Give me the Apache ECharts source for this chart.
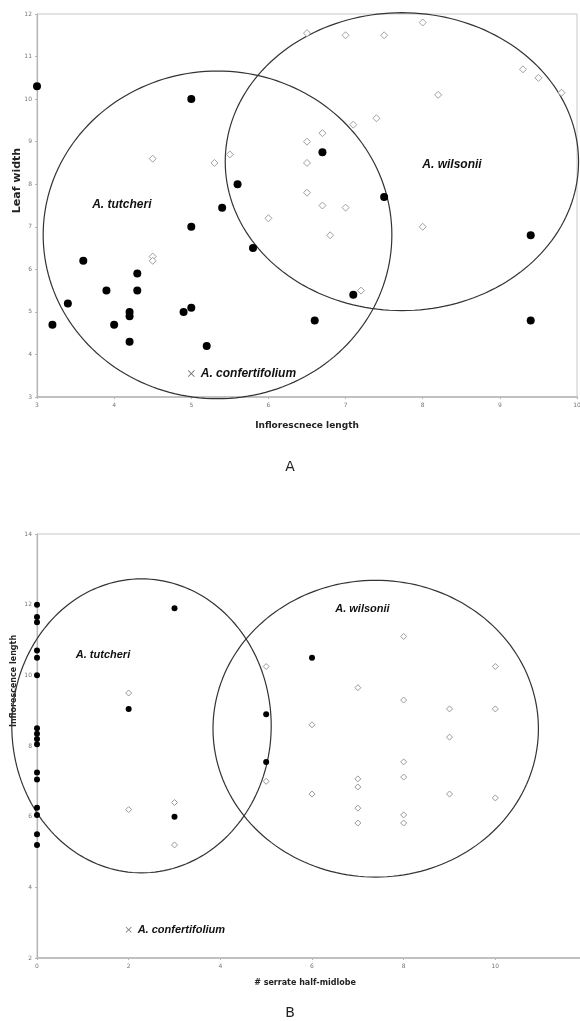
<!DOCTYPE html>
<html><head><meta charset="utf-8">
<script src="https://cdn.jsdelivr.net/npm/echarts@6/dist/echarts.min.js"></script>
<style>html,body{margin:0;padding:0;background:#fff}#c{width:580px;height:1021px}</style>
</head><body><div id="c"></div>
<script>
// ---------- Panel A: Leaf width vs Inflorescence length ----------
var aTutcheri = [[3.0,10.3],[5.0,10.0],[3.2,4.7],[3.4,5.2],[3.6,6.2],[3.9,5.5],[4.0,4.7],[4.2,5.0],[4.2,4.9],[4.2,4.3],[4.3,5.9],[4.3,5.5],[4.9,5.0],[5.0,5.1],[5.0,7.0],[5.2,4.2],[5.4,7.45],[5.6,8.0],[5.8,6.5],[6.7,8.75],[6.6,4.8],[7.1,5.4],[7.5,7.7],[9.4,6.8],[9.4,4.8]];
var aWilsonii = [[4.5,8.6],[4.5,6.3],[4.5,6.2],[5.3,8.5],[5.5,8.7],[6.5,11.55],[7.0,11.5],[7.5,11.5],[8.0,11.8],[7.1,9.4],[7.4,9.55],[6.7,9.2],[6.5,9.0],[6.5,8.5],[6.5,7.8],[6.7,7.5],[7.0,7.45],[9.3,10.7],[9.5,10.5],[9.8,10.15],[8.2,10.1],[6.0,7.2],[6.8,6.8],[7.2,5.5],[8.0,7.0]];
var aConfert = [[5.0,3.55]];
var aEllipses = [[5.34,6.81,2.26,3.85],[7.73,8.53,2.29,3.50]]; // cx, cy, rx, ry
var aGroupLabels = [[4.1,7.52,'A. tutcheri'],[8.38,8.46,'A. wilsonii']];
var aXTicks = {min:3,max:10,interval:1};
var aYTicks = {min:3,max:12,interval:1};

// ---------- Panel B: Inflorescence length vs # serrate half-midlobe ----------
var bTutcheri = [[0,12.0],[0,11.65],[0,11.5],[0,10.7],[0,10.5],[0,10.0],[0,8.5],[0,8.35],[0,8.2],[0,8.05],[0,7.25],[0,7.05],[0,6.25],[0,6.05],[0,5.5],[0,5.2],[3,11.9],[2,9.05],[3,6.0],[6,10.5],[5,8.9],[5,7.55]];
var bWilsonii = [[2,9.5],[2,6.2],[3,6.4],[3,5.2],[5,10.25],[7,9.65],[6,8.6],[8,11.1],[10,10.25],[8,9.3],[9,9.05],[10,9.05],[9,8.25],[8,7.55],[8,7.12],[7,7.07],[7,6.84],[5,7.0],[6,6.64],[7,6.24],[7,5.82],[8,6.05],[8,5.82],[9,6.64],[10,6.53]];
var bConfert = [[2,2.8]];
var bEllipses = [[2.28,8.57,2.83,4.16],[7.39,8.49,3.55,4.20]];
var bGroupLabels = [[1.44,10.58,'A. tutcheri'],[7.10,11.88,'A. wilsonii']];
var bXTicks = {min:0,max:12,interval:2};
var bYTicks = {min:2,max:14,interval:2};

var crossPath = 'path://M0,1L1,0L5,4L9,0L10,1L6,5L10,9L9,10L5,6L1,10L0,9L4,5Z';
var groupFont = {fontFamily:'Liberation Sans, Arial, sans-serif',fontWeight:'bold',fontStyle:'italic',color:'#111'};

function ellipseSeries(ax, data) {
  return {
    type:'custom', xAxisIndex:ax, yAxisIndex:ax, silent:true, z:1,
    dimensions:['cx','cy','rx','ry'], encode:{x:0,y:1},
    data:data,
    renderItem:function(params, api){
      var cx=api.value(0), cy=api.value(1), rx=api.value(2), ry=api.value(3);
      var pts=[];
      for (var i=0;i<=180;i++){ var t=i/180*2*Math.PI; pts.push(api.coord([cx+rx*Math.cos(t), cy+ry*Math.sin(t)])); }
      return {type:'polyline', shape:{points:pts}, style:{fill:null, stroke:'#333', lineWidth:1.2}};
    }
  };
}
function labelSeries(ax, data, size) {
  return {
    type:'scatter', xAxisIndex:ax, yAxisIndex:ax, silent:true, symbolSize:0, z:5,
    itemStyle:{opacity:1},
    data:data.map(function(d){return {value:[d[0],d[1]], name:d[2]};}),
    label:Object.assign({show:true, position:'inside', formatter:'{b}', fontSize:size, opacity:1}, groupFont)
  };
}
function axisCommon(t, lw) {
  return {
    min:t.min, max:t.max, interval:t.interval,
    axisLine:{show:true, onZero:false, lineStyle:{color:'#b5b5b5', width:lw}},
    axisTick:{show:true, length:2, lineStyle:{color:'#b5b5b5'}},
    axisLabel:{fontSize:6, color:'#777', margin:5, fontFamily:'DejaVu Sans'},
    splitLine:{show:false}
  };
}

var chart = echarts.init(document.getElementById('c'), null, {renderer:'canvas'});
chart.setOption({
  animation:false,
  backgroundColor:'#fff',
  grid:[
    {left:37, top:14, width:540, height:383, show:true, borderColor:'#c8c8c8', borderWidth:1, containLabel:false, outerBoundsMode:'none'},
    {left:37, top:534, width:550, height:424, show:true, borderColor:'#c8c8c8', borderWidth:1, containLabel:false, outerBoundsMode:'none'}
  ],
  xAxis:[
    Object.assign(axisCommon(aXTicks,1.5), {gridIndex:0, type:'value', name:'Inflorescnece length', nameLocation:'middle', nameGap:24,
      nameTextStyle:{fontSize:9, fontWeight:'bold', color:'#222', fontFamily:'DejaVu Sans'}}),
    Object.assign(axisCommon(bXTicks,1.5), {gridIndex:1, type:'value', name:'# serrate half-midlobe', nameLocation:'middle', nameGap:21,
      nameTextStyle:{fontSize:8, fontWeight:'bold', color:'#222', fontFamily:'DejaVu Sans', padding:[0,14,0,0]}})
  ],
  yAxis:[
    Object.assign(axisCommon(aYTicks,1.2), {gridIndex:0, type:'value', name:'Leaf width', nameLocation:'middle', nameGap:14, nameRotate:90, nameMoveOverlap:false,
      nameTextStyle:{fontSize:11, fontWeight:'bold', color:'#222', fontFamily:'DejaVu Sans', padding:[0,0,0,50]}}),
    Object.assign(axisCommon(bYTicks,1.2), {gridIndex:1, type:'value', name:'Inflorescence length', nameLocation:'middle', nameGap:19, nameRotate:90, nameMoveOverlap:false,
      nameTextStyle:{fontSize:8, fontWeight:'bold', color:'#222', fontFamily:'DejaVu Sans', padding:[0,0,0,130]}})
  ],
  title:[
    {text:'A', left:'center', top:455, textStyle:{fontSize:14, fontWeight:'normal', color:'#222', fontFamily:'DejaVu Sans'}},
    {text:'B', left:'center', top:1001, textStyle:{fontSize:14, fontWeight:'normal', color:'#222', fontFamily:'DejaVu Sans'}}
  ],
  series:[
    ellipseSeries(0, aEllipses),
    ellipseSeries(1, bEllipses),
    {type:'scatter', xAxisIndex:0, yAxisIndex:0, data:aWilsonii, symbol:'diamond', symbolSize:7, z:3,
      itemStyle:{color:'#fff', borderColor:'#a0a0a0', borderWidth:1, opacity:1}},
    {type:'scatter', xAxisIndex:0, yAxisIndex:0, data:aTutcheri, symbol:'circle', symbolSize:8, z:4,
      itemStyle:{color:'#000', opacity:1}},
    {type:'scatter', xAxisIndex:0, yAxisIndex:0, data:aConfert, symbol:crossPath, symbolSize:7, z:4,
      itemStyle:{color:'#777', opacity:1},
      label:Object.assign({show:true, position:'right', distance:6, fontSize:12, formatter:'A. confertifolium'}, groupFont)},
    labelSeries(0, aGroupLabels, 12),
    {type:'scatter', xAxisIndex:1, yAxisIndex:1, data:bWilsonii, symbol:'diamond', symbolSize:6, z:3,
      itemStyle:{color:'#fff', borderColor:'#999', borderWidth:1, opacity:1}},
    {type:'scatter', xAxisIndex:1, yAxisIndex:1, data:bTutcheri, symbol:'circle', symbolSize:6, z:4,
      itemStyle:{color:'#000', opacity:1}},
    {type:'scatter', xAxisIndex:1, yAxisIndex:1, data:bConfert, symbol:crossPath, symbolSize:6, z:4,
      itemStyle:{color:'#777', opacity:1},
      label:Object.assign({show:true, position:'right', distance:6, fontSize:11, formatter:'A. confertifolium'}, groupFont)},
    labelSeries(1, bGroupLabels, 11)
  ]
});
</script>
</body></html>
